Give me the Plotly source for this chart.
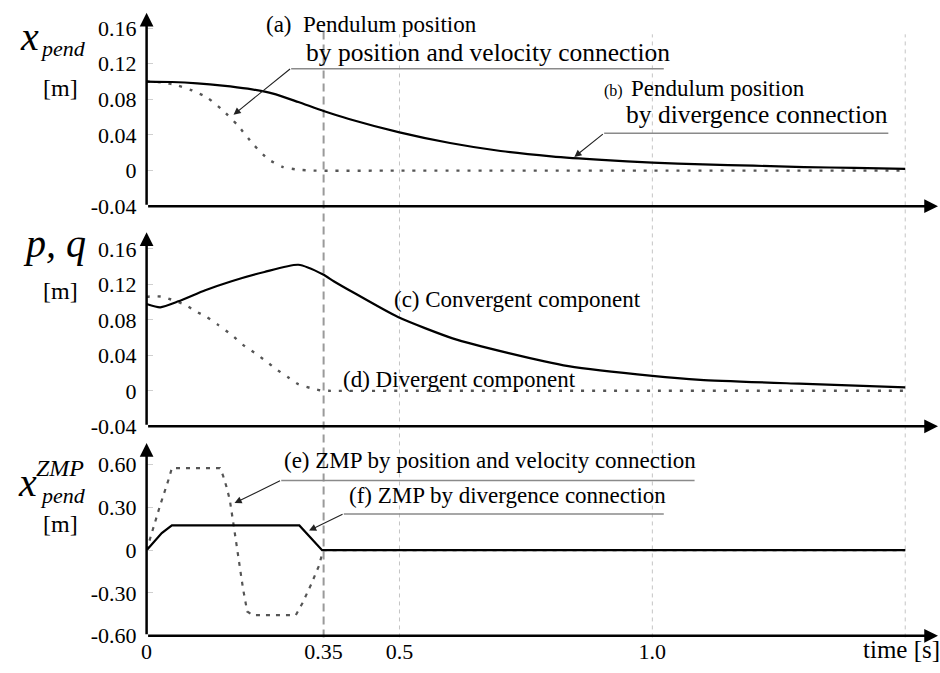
import plotly.graph_objects as go

W, H = 940, 673
FONT = "'Liberation Serif', 'Times New Roman', serif"

# ---- time axis ----
time_ticks = [0, 0.35, 0.5, 1.0]
time_ticktext = ["0", "0.35", "0.5", "1.0"]
switch_time = 0.35
guide_times = [0.5, 1.0, 1.5]

# ---- value axes ----
pos_ticks = [-0.04, 0, 0.04, 0.08, 0.12, 0.16]
pos_ticktext = ["-0.04", "0", "0.04", "0.08", "0.12", "0.16"]
zmp_ticks = [-0.6, -0.3, 0, 0.3, 0.6]
zmp_ticktext = ["-0.60", "-0.30", "0", "0.30", "0.60"]

# (a) pendulum position, position and velocity connection
t_a = [0, 0.03, 0.06, 0.09, 0.12, 0.15, 0.18, 0.21, 0.24, 0.27, 0.30, 0.33, 0.5, 1.0, 1.5]
x_a = [0.100, 0.099, 0.096, 0.090, 0.082, 0.068, 0.051, 0.030, 0.013, 0.004, 0.001, 0.0, 0.0, 0.0, 0.0]

# (b) pendulum position, divergence connection
t_b = [0, 0.05, 0.1, 0.15, 0.2, 0.25, 0.3, 0.35, 0.4, 0.5, 0.6, 0.7, 0.8, 0.9, 1.0, 1.1, 1.2, 1.3, 1.4, 1.5]
x_b = [0.100, 0.0995, 0.098, 0.0955, 0.092, 0.0865, 0.077, 0.067, 0.058, 0.043, 0.031, 0.022,
       0.016, 0.012, 0.009, 0.007, 0.0055, 0.004, 0.003, 0.002]

# (c) convergent component
t_c = [0, 0.027, 0.063, 0.116, 0.168, 0.233, 0.300, 0.349, 0.37, 0.409, 0.497, 0.605,
       0.716, 0.834, 1.0, 1.095, 1.29, 1.5]
p_c = [0.0978, 0.0941, 0.1008, 0.1133, 0.1235, 0.1339, 0.1420, 0.131, 0.1235, 0.1107,
       0.0831, 0.0591, 0.0425, 0.0278, 0.0168, 0.0124, 0.008, 0.0039]

# (d) divergent component
t_d = [0, 0.011, 0.031, 0.053, 0.076, 0.096, 0.119, 0.142, 0.168, 0.19, 0.213, 0.236, 0.256,
       0.279, 0.30, 0.325, 0.344, 0.36, 0.5, 1.0, 1.5]
q_d = [0.106, 0.1065, 0.106, 0.102, 0.097, 0.090, 0.083, 0.074, 0.063, 0.052, 0.043, 0.0335,
       0.0245, 0.0155, 0.0075, 0.003, 0.0005, 0.0, 0.0, 0.0, 0.0]

# (e) ZMP, position and velocity connection
t_e = [0, 0.014, 0.027, 0.044, 0.050, 0.145, 0.151, 0.158, 0.1645, 0.171, 0.178, 0.184, 0.1906,
       0.199, 0.21, 0.295, 0.308, 0.3245, 0.341, 0.349, 0.5, 1.0, 1.5]
z_e = [0, 0.168, 0.317, 0.501, 0.575, 0.575, 0.524, 0.444, 0.352, 0.202, 0.03, -0.131, -0.269,
       -0.43, -0.455, -0.455, -0.372, -0.246, -0.108, 0, 0, 0, 0]

# (f) ZMP, divergence connection
t_f = [0, 0.03, 0.05, 0.302, 0.347, 0.5, 1.0, 1.5]
z_f = [0, 0.12, 0.173, 0.173, 0, 0, 0, 0]

# ---- geometry (pixels) ----
X0_PX = 141.5
PX_PER_S = 509.0
T_MAX = (W - X0_PX) / PX_PER_S

def py(v):
    return 1 - v / H

def pxx(v):
    return v / W

# panel: (bottom px, top px, range min, px per unit)
panels = [
    (210.3, 13.0, -0.04, 908.0),
    (434.7, 236.7, -0.04, 905.0),
    (648.3, 451.7, -0.60, 145.5),
]

fig = go.Figure()

SOLID = dict(color="black", width=2.2)
SOLID_S = dict(color="black", width=2.2, shape="spline", smoothing=0.6)
DOT_POS = dict(color="#555555", width=2.4, dash="3px,8px", shape="spline", smoothing=0.5)
DOT_ZMP = dict(color="#555555", width=2.2, dash="4px,6px")

series = [
    (t_a, x_a, DOT_POS, 1), (t_b, x_b, SOLID_S, 1),
    (t_d, q_d, DOT_POS, 2), (t_c, p_c, SOLID_S, 2),
    (t_e, z_e, DOT_ZMP, 3), (t_f, z_f, SOLID, 3),
]
for t, v, ln, k in series:
    fig.add_trace(go.Scatter(
        x=t, y=v, mode="lines", line=ln, showlegend=False, hoverinfo="skip",
        xaxis="x" if k == 1 else f"x{k}", yaxis="y" if k == 1 else f"y{k}",
    ))

layout = dict(
    width=W, height=H, margin=dict(l=0, r=0, t=0, b=0),
    paper_bgcolor="white", plot_bgcolor="rgba(0,0,0,0)",
    font=dict(family=FONT, color="black"),
    showlegend=False,
)

ytick_sets = [(pos_ticks, pos_ticktext), (pos_ticks, pos_ticktext), (zmp_ticks, zmp_ticktext)]
annotations = []
for i, (yb, yt, rmin, kpx) in enumerate(panels):
    n = i + 1
    sx = "" if n == 1 else str(n)
    rmax = rmin + (yb - yt) / kpx
    tv, tt = ytick_sets[i]
    layout[f"xaxis{sx}"] = dict(
        domain=[X0_PX / W, 1.0], range=[0, T_MAX], anchor=f"y{sx}",
        showgrid=False, zeroline=False, showline=False,
        showticklabels=(n == 3), tickvals=time_ticks, ticktext=time_ticktext,
        ticks="", tickfont=dict(family=FONT, size=22), ticklabelstandoff=0,
    )
    layout[f"yaxis{sx}"] = dict(
        domain=[py(yb), py(yt)], range=[rmin, rmax], anchor=f"x{sx}",
        showgrid=False, zeroline=False, showline=False,
        tickvals=tv, ticktext=tt, ticks="inside", ticklen=6, tickcolor="#cfcfcf",
        tickfont=dict(family=FONT, size=22), ticklabelstandoff=9,
    )
    # axis arrows
    xr, yr = f"x{sx}", f"y{sx}"
    annotations.append(dict(
        x=0, y=rmax, xref=xr, yref=yr, ax=0, ay=rmin, axref=xr, ayref=yr,
        text="", showarrow=True, arrowhead=2, arrowsize=1.1, arrowwidth=2.5, arrowcolor="black",
    ))
    annotations.append(dict(
        x=(938 - X0_PX) / PX_PER_S, y=rmin, xref=xr, yref=yr, ax=0, ay=rmin, axref=xr, ayref=yr,
        text="", showarrow=True, arrowhead=2, arrowsize=1.1, arrowwidth=2.5, arrowcolor="black",
    ))

def text(s, left, baseline, size, italic=False):
    label = f"<i>{s}</i>" if italic else s
    annotations.append(dict(
        x=pxx(left), y=py(baseline - 0.33 * size), xref="paper", yref="paper",
        xanchor="left", yanchor="middle", text=label, showarrow=False,
        font=dict(family=FONT, size=size, color="black"),
    ))

def pointer(tail, head):
    annotations.append(dict(
        x=pxx(head[0]), y=py(head[1]), xref="paper", yref="paper",
        ax=tail[0] - head[0], ay=tail[1] - head[1], text="", showarrow=True,
        arrowhead=2, arrowsize=1.3, arrowwidth=1.1, arrowcolor="#222222",
    ))

# axis titles
text("x", 12, 50, 40, italic=True)
text("pend", 32, 57, 22, italic=True)
text("[m]", 35, 98, 24)
text("p, q", 15, 262, 40, italic=True)
text("[m]", 35, 305, 24)
text("x", 10, 505, 40, italic=True)
text("ZMP", 28, 485, 24, italic=True)
text("pend", 32, 513, 22, italic=True)
text("[m]", 35, 542, 24)
text("time [s]", 860, 671, 25)

# curve labels
text("(a)  Pendulum position", 260, 33, 23)
text("by position and velocity connection", 300, 62, 25.5)
text("(b)", 600, 98, 16)
text("Pendulum position", 627, 98, 23)
text("by divergence connection", 622, 125, 25.5)
text("(c) Convergent component", 388, 313, 23)
text("(d) Divergent component", 337, 395, 23)
text("(e) ZMP by position and velocity connection", 278, 477, 23)
text("(f) ZMP by divergence connection", 343, 513, 23)

pointer((287, 70), (229, 117))
pointer((602, 136), (572, 160))
pointer((277, 490), (230, 513))
pointer((340, 524), (305, 541))

layout["annotations"] = annotations

# underlines and time guides
shapes = []
for x0, x1, yy in [(287, 662, 70), (602, 888, 136), (277, 693, 490), (340, 662, 524)]:
    shapes.append(dict(type="line", xref="paper", yref="paper", x0=pxx(x0), x1=pxx(x1),
                       y0=py(yy), y1=py(yy), line=dict(color="#8a8a8a", width=1.5), layer="above"))
shapes.append(dict(type="line", xref="x3", yref="paper", x0=switch_time, x1=switch_time,
                   y0=py(650), y1=py(26), line=dict(color="#9a9a9a", width=2, dash="8px,5px"),
                   layer="below"))
for g in guide_times:
    shapes.append(dict(type="line", xref="x3", yref="paper", x0=g, x1=g,
                       y0=py(650), y1=py(35), line=dict(color="#c4c4c4", width=1, dash="4px,4px"),
                       layer="below"))
layout["shapes"] = shapes

fig.update_layout(**layout)
fig.write_html("out.html")
